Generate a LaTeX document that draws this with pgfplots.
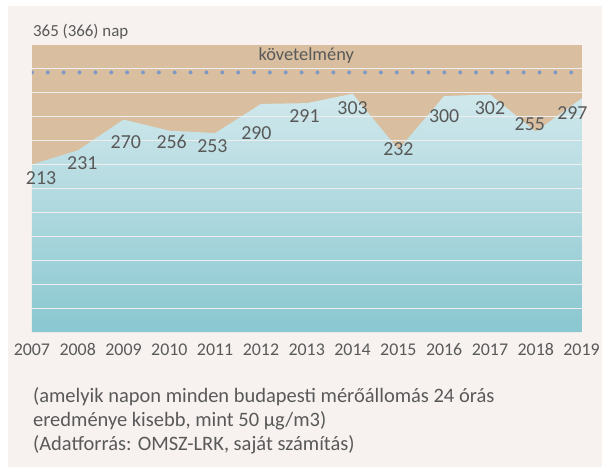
\documentclass[border=0pt]{standalone}
\usepackage{pgfplots}
\pgfplotsset{compat=1.18}
\usepackage{fontspec}
\setmainfont{Carlito}

\definecolor{pagebg}{HTML}{F7F2F0}
\definecolor{tanbg}{HTML}{D9BF9F}
\definecolor{bluetop}{HTML}{D0E8EC}
\definecolor{bluebot}{HTML}{8AC7D0}
\definecolor{txt}{HTML}{595959}
\definecolor{dotc}{HTML}{7F99C6}
\definecolor{gridc}{HTML}{EEEEEE}

% napok szama, amikor minden budapesti allomas 24 oras erteke < 50 ug/m3
\pgfplotstableread{
year days
2007 213
2008 231
2009 270
2010 256
2011 253
2012 290
2013 291
2014 303
2015 232
2016 300
2017 302
2018 255
2019 297
}\days

% cimkek helye (a kepen kicsit eltolva a pontoktol)
\pgfplotstableread{
x y lbl
2007.2 196 213
2008.1 215 231
2009.05 242 270
2010.05 242 256
2010.94 237 253
2011.9 253 290
2012.95 274 291
2014.0 285 303
2015.0 232 232
2016.0 274 300
2017.0 285 302
2017.87 264 255
2018.8 278 297
}\labels

\begin{document}
\begin{tikzpicture}
\fill[white] (0,0) rectangle (603bp,468bp);
\fill[pagebg] (8bp,0) rectangle (603bp,462bp);

\begin{axis}[
    at={(32bp,135bp)}, anchor=south west,
    scale only axis,
    width=551bp, height=288bp,
    xmin=2007, xmax=2019,
    ymin=0, ymax=365,
    axis background/.style={fill=tanbg},
    axis line style={draw=none},
    tick style={draw=none},
    axis on top,
    xtick={2007,...,2019},
    /pgf/number format/assume math mode=true,
    xticklabel style={/pgf/number format/1000 sep={}, font=\fontsize{18}{20}\selectfont, text=txt, yshift=-8bp},
    ytick={30.4167,60.8333,91.25,121.6667,152.0833,182.5,212.9167,243.3333,273.75,304.1667,334.5833},
    yticklabels={},
    ymajorgrids,
    grid style={gridc, line width=1.2bp},
]
\addplot[draw=none, top color=bluetop, bottom color=bluebot] table[x=year, y=days] {\days} \closedcycle;

\addplot[dotc, line width=4bp, line cap=round, dash pattern=on 0pt off 15.9bp] coordinates {(2007,330) (2019,330)};

\addplot[draw=none, nodes near coords, point meta=explicit symbolic,
    nodes near coords style={anchor=center, font=\fontsize{20}{22}\selectfont, text=txt}]
    table[x=x, y=y, meta=lbl] {\labels};
\end{axis}

\node[anchor=west, text=txt, font=\fontsize{17}{19}\selectfont, inner sep=0] at (33bp,436bp) {365 (366) nap};
\node[anchor=center, text=txt, font=\fontsize{18.5}{20}\selectfont, inner sep=0] at (307bp,412bp) {követelmény};

\node[anchor=base west, text=txt, font=\fontsize{20.6}{22}\selectfont, inner sep=0] at (33bp,65bp) {(amelyik napon minden budapesti mérőállomás 24 órás};
\node[anchor=base west, text=txt, font=\fontsize{20.6}{22}\selectfont, inner sep=0] at (33bp,40.5bp) {eredménye kisebb, mint 50 µg/m3)};
\node[anchor=base west, text=txt, font=\fontsize{20.6}{22}\selectfont, inner sep=0] at (33bp,16bp) {(Adatforrás: OMSZ-LRK, saját számítás)};
\end{tikzpicture}
\end{document}
